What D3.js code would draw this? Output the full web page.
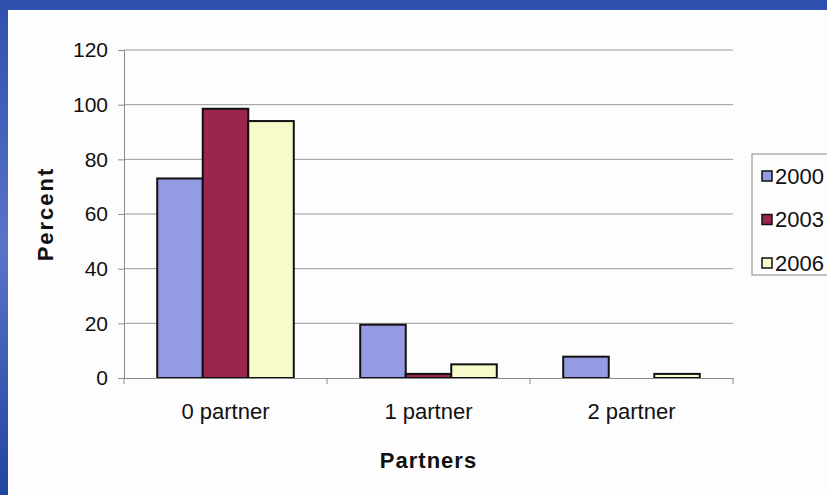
<!DOCTYPE html>
<html lang="en">
<head>
<meta charset="UTF-8">
<title>Partners</title>
<script src="https://d3js.org/d3.v7.min.js"></script>
<style>
  body { margin: 0; padding: 0; background: #fff; }
  svg { display: block; font-family: "Liberation Sans", Arial, sans-serif; }
</style>
</head>
<body>
<svg width="827" height="495"></svg>
<script>
// data
const categories = ["0 partner", "1 partner", "2 partner"];
const years = ["2000", "2003", "2006"];
const v2000 = [73, 19.5, 7.8];
const v2003 = [98.5, 1.5, 0];
const v2006 = [94, 5, 1.5];
const yTicks = [0, 20, 40, 60, 80, 100, 120];
const colors = ["#959be2", "#9a2650", "#f7fbca"];

const series = [v2000, v2003, v2006];

const svg = d3.select("svg");
const W = 827, H = 495;
const plot = {left: 124, right: 733, top: 50, bottom: 378};

// blue frame behind the white panel
const defs = svg.append("defs");
const grad = defs.append("linearGradient").attr("id", "frame")
  .attr("x1", 0).attr("y1", 0).attr("x2", 0).attr("y2", 1);
grad.append("stop").attr("offset", "0%").attr("stop-color", "#2e4fae");
grad.append("stop").attr("offset", "50%").attr("stop-color", "#5a74c8");
grad.append("stop").attr("offset", "100%").attr("stop-color", "#1f44a0");
svg.append("rect").attr("width", W).attr("height", H).attr("fill", "url(#frame)");
svg.append("rect").attr("x", 8).attr("y", 10).attr("width", W - 8).attr("height", H - 10)
  .attr("fill", "#fdfdfd");

const x = d3.scaleBand().domain(categories).range([plot.left, plot.right]);
const x1 = d3.scaleBand().domain(years).range([0, x.bandwidth()]).paddingOuter(0.73);
const y = d3.scaleLinear().domain([0, 120]).range([plot.bottom, plot.top]);

// gridlines
svg.append("g").selectAll("line").data(yTicks.filter(d => d > 0)).join("line")
  .attr("x1", plot.left).attr("x2", plot.right)
  .attr("y1", d => y(d)).attr("y2", d => y(d))
  .attr("stroke", "#9a9a9a").attr("stroke-width", 1);

// y axis
const yAxis = svg.append("g").attr("transform", `translate(${plot.left},0)`)
  .call(d3.axisLeft(y).tickValues(yTicks).tickSize(6).tickPadding(10));
yAxis.select(".domain").attr("stroke", "#8a8a8a");
yAxis.selectAll(".tick line").attr("stroke", "#8a8a8a");
yAxis.selectAll(".tick text").attr("font-size", 21).attr("fill", "#111")
  .attr("font-family", "'Liberation Sans', Arial, sans-serif");

// bars
const groups = svg.append("g").selectAll("g").data(categories).join("g")
  .attr("transform", d => `translate(${x(d)},0)`);
groups.selectAll("rect")
  .data((c, i) => years.map((yr, j) => ({yr, v: series[j][i], j})))
  .join("rect")
  .attr("x", d => x1(d.yr))
  .attr("width", x1.bandwidth())
  .attr("y", d => y(d.v))
  .attr("height", d => y(0) - y(d.v))
  .attr("fill", d => colors[d.j])
  .attr("stroke", "#111")
  .attr("stroke-width", 2);

// x axis
const xAxis = svg.append("g").attr("transform", `translate(0,${plot.bottom})`)
  .call(d3.axisBottom(x).tickSize(0).tickPadding(25));
xAxis.select(".domain").attr("stroke", "#8a8a8a");
xAxis.selectAll(".tick text").attr("font-size", 22).attr("fill", "#111")
  .attr("font-family", "'Liberation Sans', Arial, sans-serif");
svg.append("g").selectAll("line")
  .data(categories.map(c => x(c)).concat([plot.right])).join("line")
  .attr("x1", d => d).attr("x2", d => d)
  .attr("y1", plot.bottom).attr("y2", plot.bottom + 6)
  .attr("stroke", "#8a8a8a");

// axis titles
svg.append("text")
  .attr("x", (plot.left + plot.right) / 2).attr("y", 468)
  .attr("text-anchor", "middle").attr("font-size", 22).attr("font-weight", "bold")
  .attr("letter-spacing", 1).attr("fill", "#111")
  .text("Partners");
svg.append("text")
  .attr("transform", `translate(53,${(plot.top + plot.bottom) / 2}) rotate(-90)`)
  .attr("text-anchor", "middle").attr("font-size", 22).attr("font-weight", "bold")
  .attr("letter-spacing", 2).attr("fill", "#111")
  .text("Percent");

// legend
const legend = svg.append("g").attr("transform", "translate(752,154)");
legend.append("rect").attr("width", 90).attr("height", 121)
  .attr("fill", "#fdfdfd").attr("stroke", "#8a8a8a");
const rows = legend.selectAll("g").data(years).join("g")
  .attr("transform", (d, i) => `translate(0,${22 + i * 43.5})`);
rows.append("rect").attr("x", 10).attr("y", -5).attr("width", 10).attr("height", 10)
  .attr("fill", (d, i) => colors[i]).attr("stroke", "#111").attr("stroke-width", 1.5);
rows.append("text").attr("x", 23).attr("dy", "0.36em")
  .attr("font-size", 22).attr("fill", "#111").text(d => d);
</script>
</body>
</html>
